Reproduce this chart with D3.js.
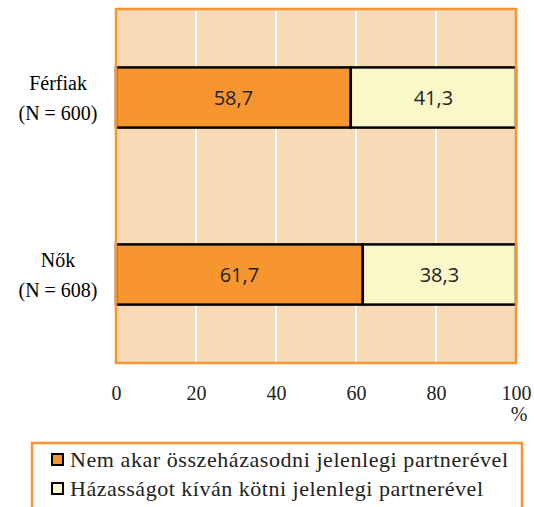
<!DOCTYPE html>
<html>
<head>
<meta charset="utf-8">
<script src="https://cdn.jsdelivr.net/npm/d3@7"></script>
<style>
  body { margin: 0; background: #fff; }
  .serif { font-family: "Liberation Serif", "Times New Roman", Times, "DejaVu Serif", serif; }
  .num { font-family: "Open Sans", "DejaVu Sans", sans-serif; }
</style>
</head>
<body>
<div id="chart"></div>
<script>
const categories = ["Férfiak", "Nők"];
const sampleSizes = ["(N = 600)", "(N = 608)"];
const notMarry = [58.7, 61.7];
const wantMarry = [41.3, 38.3];
const seriesNames = ["Nem akar összeházasodni jelenlegi partnerével", "Házasságot kíván kötni jelenlegi partnerével"];
const xTicks = [0, 20, 40, 60, 80, 100];

const width = 534, height = 507;
const margin = { top: 9, left: 116, right: 18, bottom: 144 };
const plotW = width - margin.left - margin.right;
const plotH = height - margin.top - margin.bottom;

const colors = ["#F7952E", "#FAF8C8"];
const legendWidths = [438, 413];

const svg = d3.select("#chart").append("svg")
    .attr("width", width)
    .attr("height", height);

const g = svg.append("g")
    .attr("transform", `translate(${margin.left}, ${margin.top})`);

const x = d3.scaleLinear().domain([0, 100]).range([0, plotW]);
const y = d3.scaleBand().domain(categories).range([0, plotH]).padding(0);
const barH = y.bandwidth() * 0.34;

// background
g.append("rect")
    .attr("width", plotW)
    .attr("height", plotH)
    .attr("fill", "#F8DAB9");

// grid lines
g.selectAll("line.grid")
    .data(xTicks.slice(1, -1))
    .enter().append("line")
    .attr("x1", d => x(d))
    .attr("x2", d => x(d))
    .attr("y1", 0)
    .attr("y2", plotH)
    .attr("stroke", "#fff")
    .attr("stroke-width", 2);

// stacked bars
const rows = categories.map((c, i) => ({ cat: c, parts: [
    { x0: 0, x1: notMarry[i], v: notMarry[i], color: colors[0] },
    { x0: notMarry[i], x1: notMarry[i] + wantMarry[i], v: wantMarry[i], color: colors[1] }
] }));

rows.forEach(r => {
    const cy = y(r.cat) + y.bandwidth() / 2;
    r.parts.forEach(p => {
        g.append("rect")
            .attr("x", x(p.x0))
            .attr("y", cy - barH / 2)
            .attr("width", x(p.x1) - x(p.x0))
            .attr("height", barH)
            .attr("fill", p.color)
            .attr("stroke", "#000")
            .attr("stroke-width", 2.5);
        g.append("text")
            .attr("class", "num")
            .attr("x", (x(p.x0) + x(p.x1)) / 2)
            .attr("y", cy + 7)
            .attr("text-anchor", "middle")
            .attr("font-size", "20px")
            .attr("fill", "#222")
            .text(d3.format(".1f")(p.v).replace(".", ","));
    });
});

// plot border
g.append("rect")
    .attr("width", plotW)
    .attr("height", plotH)
    .attr("fill", "none")
    .attr("stroke", "#F7952E")
    .attr("stroke-width", 2.5);

// category labels
categories.forEach((c, i) => {
    const cy = y(c) + y.bandwidth() / 2;
    g.append("text")
        .attr("class", "serif")
        .attr("x", -58)
        .attr("y", cy - 8)
        .attr("text-anchor", "middle")
        .attr("font-size", "20px")
        .text(c);
    g.append("text")
        .attr("class", "serif")
        .attr("x", -58)
        .attr("y", cy + 22)
        .attr("text-anchor", "middle")
        .attr("font-size", "20px")
        .text(sampleSizes[i]);
});

// x axis
const xAxis = g.append("g")
    .attr("transform", `translate(0, ${plotH + 20})`)
    .call(d3.axisBottom(x).tickValues(xTicks).tickSize(0));
xAxis.attr("font-family", null);
xAxis.select(".domain").remove();
xAxis.selectAll("text")
    .attr("class", "serif")
    .attr("font-size", "20px")
    .attr("fill", "#222");

g.append("text")
    .attr("class", "serif")
    .attr("x", plotW + 3)
    .attr("y", plotH + 58)
    .attr("text-anchor", "middle")
    .attr("font-size", "20px")
    .attr("fill", "#222")
    .text("%");

// legend
const legend = svg.append("g").attr("transform", "translate(32, 443)");
legend.append("rect")
    .attr("width", 490)
    .attr("height", 70)
    .attr("fill", "none")
    .attr("stroke", "#F7952E")
    .attr("stroke-width", 2.5);

seriesNames.forEach((s, i) => {
    const row = legend.append("g").attr("transform", `translate(20, ${11 + i * 29})`);
    row.append("rect")
        .attr("width", 11)
        .attr("height", 11)
        .attr("fill", colors[i])
        .attr("stroke", "#000")
        .attr("stroke-width", 2);
    row.append("text")
        .attr("class", "serif")
        .attr("x", 18)
        .attr("y", 13)
        .attr("font-size", "22px")
        .attr("textLength", legendWidths[i])
        .attr("lengthAdjust", "spacing")
        .attr("fill", "#222")
        .text(s);
});
</script>
</body>
</html>
